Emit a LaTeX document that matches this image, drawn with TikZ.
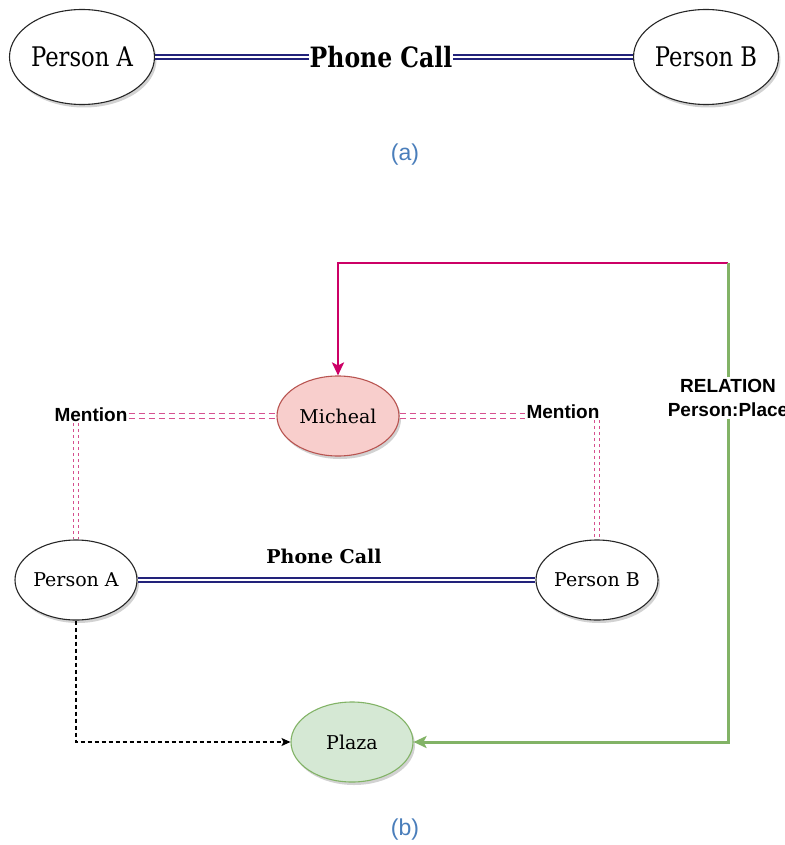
\documentclass[tikz,border=0pt]{standalone}
\usepackage{fontspec}
\setmainfont{DejaVu Serif}
\setsansfont{Liberation Sans}
\newfontfamily\condserif[FakeStretch=0.84]{DejaVu Serif}
\usetikzlibrary{shapes.geometric,arrows.meta,shadows}

\definecolor{callblue}{HTML}{22227A}
\definecolor{mentionpink}{HTML}{D6508F}
\definecolor{relmagenta}{HTML}{CC0066}
\definecolor{relgreen}{HTML}{82B366}
\definecolor{micfill}{HTML}{F8CECC}
\definecolor{micline}{HTML}{B85450}
\definecolor{plazafill}{HTML}{D5E8D4}
\definecolor{plazaline}{HTML}{82B366}
\definecolor{capblue}{HTML}{4A7EBB}

\tikzset{
  entity/.style={ellipse, draw=black!85, line width=1.1pt, fill=white,
    inner sep=0pt, minimum width=122pt, minimum height=80pt,
    font=\fontsize{19}{22}\selectfont,
    drop shadow={shadow xshift=2pt, shadow yshift=-3pt, opacity=0.35}},
  bigentity/.style={entity, minimum width=145pt, minimum height=95pt,
    font=\condserif\fontsize{27}{30}\selectfont},
  calltext/.style={inner sep=1pt, font=\bfseries\fontsize{19}{22}\selectfont},
  bigcalltext/.style={inner sep=1pt, font=\condserif\bfseries\fontsize{28}{30}\selectfont},
  mentiontext/.style={inner sep=1pt, font=\sffamily\bfseries\fontsize{19}{22}\selectfont},
  reltext/.style={inner sep=2pt, align=center,
    font=\sffamily\bfseries\fontsize{19}{24}\selectfont},
  captext/.style={inner sep=0pt, text=capblue, font=\sffamily\fontsize{23}{25}\selectfont},
  phonecall/.style={draw=callblue, double=white, line width=1.6pt, double distance=2.6pt},
  mentionlink/.style={draw=mentionpink, double=white, line width=1.6pt,
    double distance=3.4pt, dash pattern=on 6pt off 4pt},
  mentiondot/.style={draw=mentionpink, double=white, line width=1.6pt,
    double distance=3.2pt, dash pattern=on 3pt off 3pt},
  magline/.style={draw=relmagenta, line width=2.8pt,
    -{Stealth[length=13pt, width=12pt, inset=3pt]}},
  greenline/.style={draw=relgreen, line width=3pt},
  dashedarrow/.style={draw=black, line width=1.3pt, dash pattern=on 4pt off 3pt,
    -{Stealth[length=9pt, width=8pt, inset=2pt]}}
}

\begin{document}
\begin{tikzpicture}[x=1pt, y=-1pt]
  \useasboundingbox[fill=white] (0,0) rectangle (784,845);

  % (a) a phone call between two people
  \node[bigentity] (a1) at (82,57) {Person A};
  \node[bigentity] (a2) at (706,57) {Person B};
  \node[bigcalltext] (calla) at (381,57) {Phone Call};
  \draw[phonecall] (a1) -- (calla);
  \draw[phonecall] (calla) -- (a2);
  \node[captext] (capa) at (405,155) {(a)};

  % (b) the same call with mentions and a relation
  \node[entity] (pA) at (76,580) {Person A};
  \node[entity] (pB) at (597,580) {Person B};
  \node[entity, fill=micfill, draw=micline] (mic) at (338,416) {Micheal};
  \node[entity, fill=plazafill, draw=plazaline] (plaza) at (352,742) {Plaza};
  \node[mentiontext] (mL) at (91,415) {Mention};
  \node[mentiontext] (mR) at (563,412) {Mention};
  \node[reltext] (rel) at (728,398) {RELATION\\Person:Place};
  \node[calltext] (callb) at (324,556) {Phone Call};
  \coordinate (corner) at (728,263);

  \draw[phonecall] (pA) -- (pB);

  \draw[mentionlink] (mL.east |- mic.west) -- (mic.west);
  \draw[mentionlink] (mic.east) -- (mic.east -| mR.west);
  \draw[mentiondot] (mL.south -| pA.north) -- (pA.north);
  \draw[mentiondot] (mR.south -| pB.north) -- (pB.north);

  \draw[magline] (corner) -| (mic.north);
  \draw[greenline] (corner) -- (rel.north);
  \draw[greenline, -{Stealth[length=13pt, width=12pt, inset=3pt]}] (rel.south) |- (plaza.east);

  \draw[dashedarrow] (pA.south) |- (plaza.west);

  \node[captext] (capb) at (405,830) {(b)};
\end{tikzpicture}
\end{document}
